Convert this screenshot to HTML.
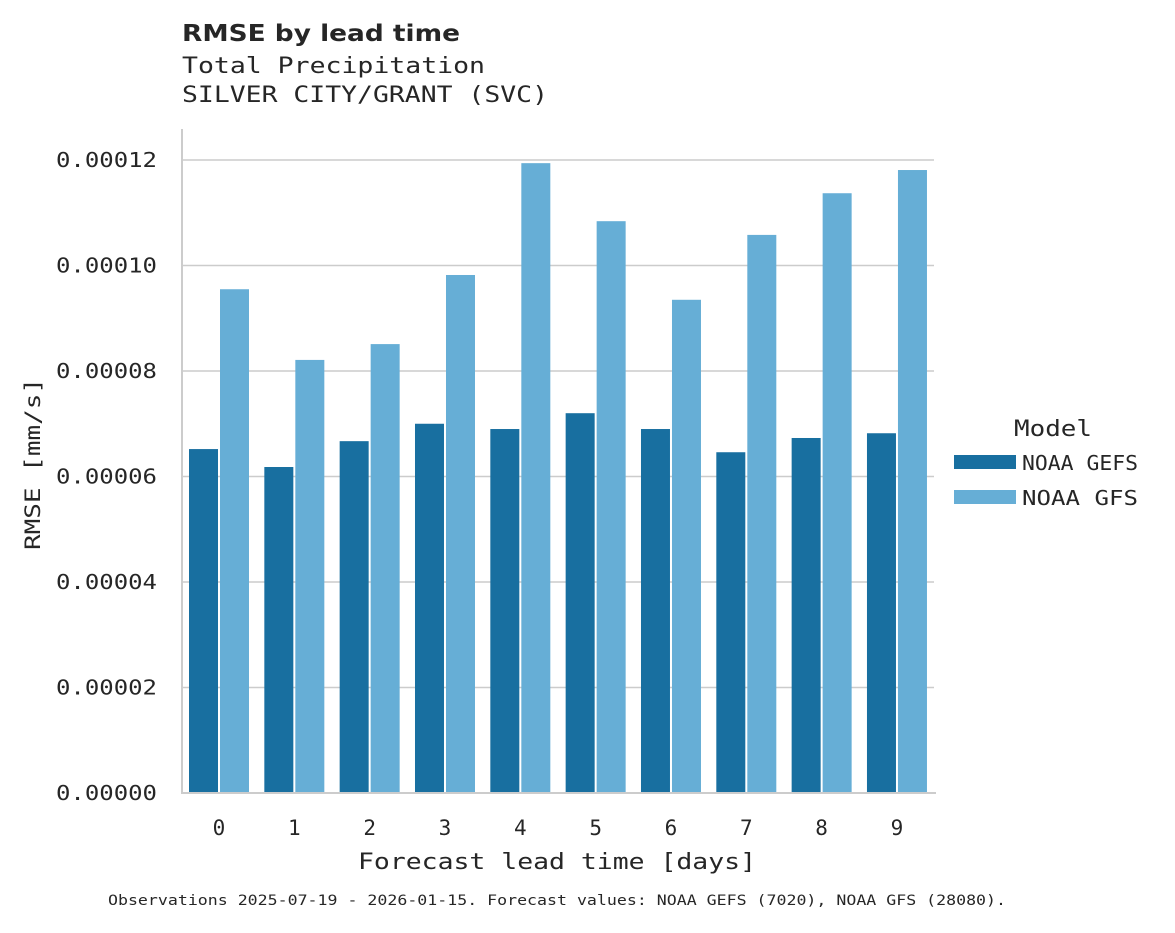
<!DOCTYPE html>
<html><head><meta charset="utf-8"><style>
body{margin:0;background:#fff;}
svg text{font-family:"DejaVu Sans Mono","Liberation Mono",monospace;fill:#262626;}
</style></head><body>
<svg width="1175" height="928">
<text x="182" y="41" textLength="278" lengthAdjust="spacingAndGlyphs" style="font-family:'DejaVu Sans','Liberation Sans',sans-serif;font-weight:bold;font-size:23px">RMSE by lead time</text>
<text x="182" y="73" font-size="22" textLength="303" lengthAdjust="spacingAndGlyphs">Total Precipitation</text>
<text x="182" y="102" font-size="22" textLength="366" lengthAdjust="spacingAndGlyphs">SILVER CITY/GRANT (SVC)</text>
<g id="grid"></g><g id="bars"></g><g id="axes"></g>
<text transform="translate(40,464) rotate(-90)" text-anchor="middle" font-size="21" textLength="172" lengthAdjust="spacingAndGlyphs">RMSE [mm/s]</text>
<text x="557" y="869" text-anchor="middle" font-size="22" textLength="398" lengthAdjust="spacingAndGlyphs">Forecast lead time [days]</text>
<text x="1014" y="436" font-size="22" textLength="78" lengthAdjust="spacingAndGlyphs">Model</text>
<rect x="954" y="455" width="62" height="14" fill="#186fa0"/>
<text x="1022" y="470" font-size="20" textLength="116" lengthAdjust="spacingAndGlyphs">NOAA GEFS</text>
<rect x="954" y="490" width="62" height="14" fill="#66aed6"/>
<text x="1022" y="505" font-size="20" textLength="116" lengthAdjust="spacingAndGlyphs">NOAA GFS</text>
<text x="557" y="905" text-anchor="middle" font-size="14" textLength="898" lengthAdjust="spacingAndGlyphs">Observations 2025-07-19 - 2026-01-15. Forecast values: NOAA GEFS (7020), NOAA GFS (28080).</text>
</svg>
<script>
const categories=["0","1","2","3","4","5","6","7","8","9"];
const gefs=[6.52e-5,6.18e-5,6.67e-5,7.0e-5,6.9e-5,7.2e-5,6.9e-5,6.46e-5,6.73e-5,6.82e-5];
const gfs=[9.55e-5,8.21e-5,8.51e-5,9.82e-5,1.194e-4,1.084e-4,9.35e-5,1.058e-4,1.137e-4,1.181e-4];
const yTicks=[0,0.00002,0.00004,0.00006,0.00008,0.0001,0.00012];
const yTickLabels=["0.00000","0.00002","0.00004","0.00006","0.00008","0.00010","0.00012"];
const NS="http://www.w3.org/2000/svg";
const y=v=>793-v/0.00012*633;
const x=i=>219+i*75.33;
function mk(t,a,p){const e=document.createElementNS(NS,t);for(const k in a)e.setAttribute(k,a[k]);p.appendChild(e);return e;}
const grid=document.getElementById('grid'),bars=document.getElementById('bars'),axes=document.getElementById('axes');
yTicks.forEach((v,i)=>{
 const l=mk('line',{x1:182,x2:934,y1:y(v),y2:y(v),stroke:'#cccccc','stroke-width':1.6},grid);
 
 
 const t=mk('text',{x:157,y:y(v)+7,'text-anchor':'end','font-size':20,textLength:101,lengthAdjust:'spacingAndGlyphs'},axes);
 t.textContent=yTickLabels[i];
 
 
});
categories.forEach((c,i)=>{
 const a=mk('rect',{x:x(i)-30,y:y(gefs[i]),width:29,height:793-y(gefs[i]),fill:'#186fa0'},bars);
 
 
 const b=mk('rect',{x:x(i)+1,y:y(gfs[i]),width:29,height:793-y(gfs[i]),fill:'#66aed6'},bars);
 
 
 const t=mk('text',{x:x(i),y:835,'text-anchor':'middle','font-size':21},axes);
 t.textContent=c;
 
 
});
const ya=mk('line',{x1:182,x2:182,y1:129,y2:794,stroke:'#cccccc','stroke-width':2},axes);


const xa=mk('line',{x1:181,x2:936,y1:793,y2:793,stroke:'#cccccc','stroke-width':2},axes);


</script>
</body></html>
